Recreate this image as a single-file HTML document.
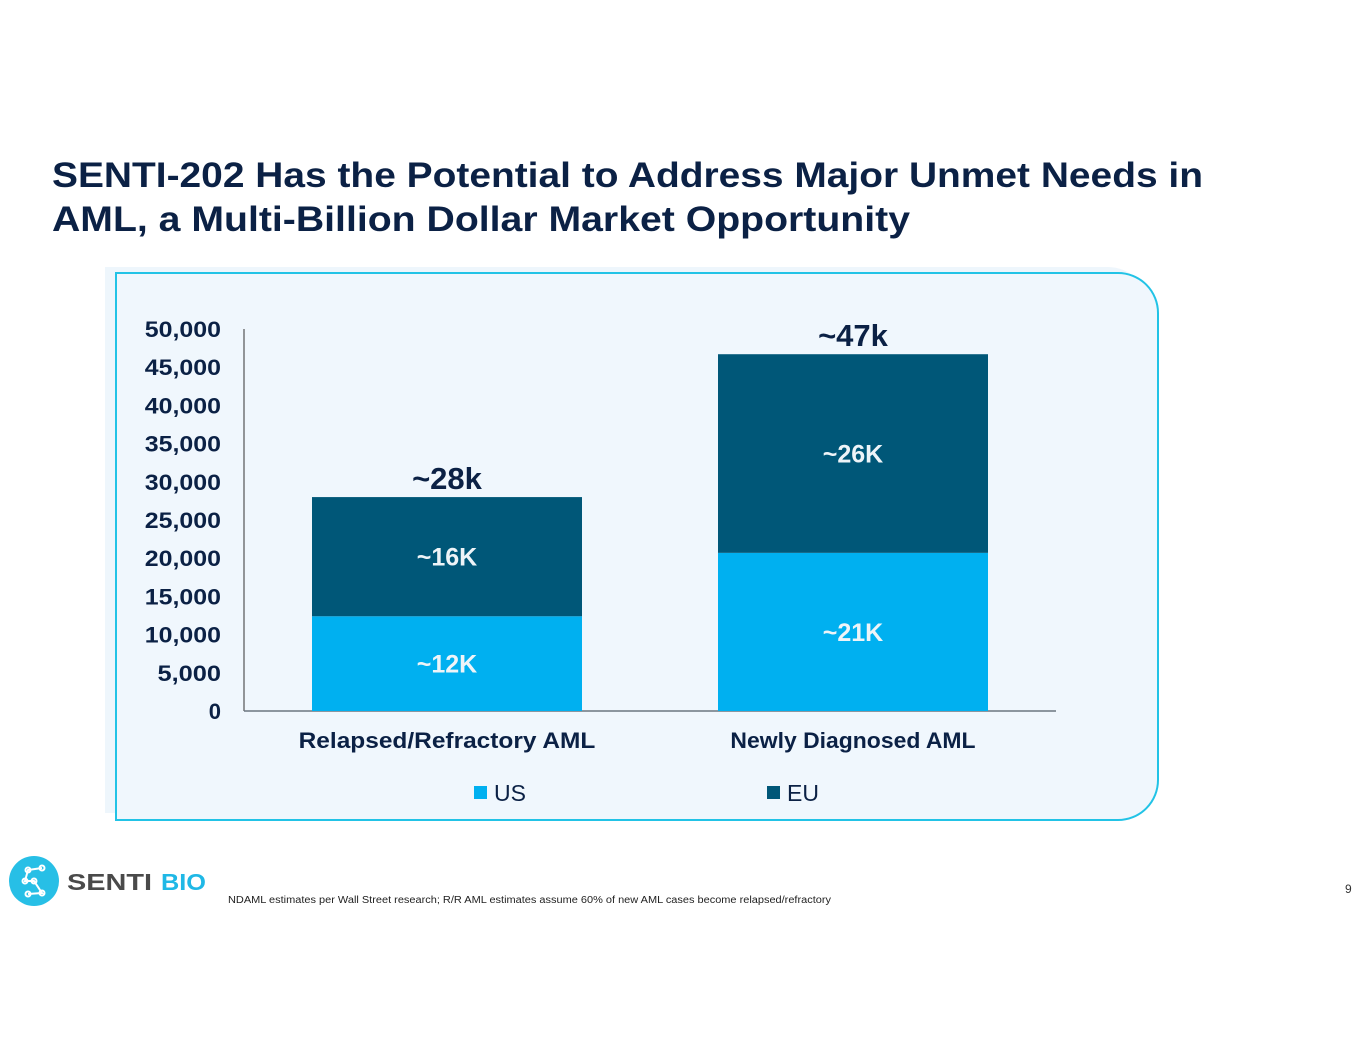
<!DOCTYPE html>
<html><head><meta charset="utf-8"><style>
html,body{margin:0;padding:0;background:#fff;}
svg{display:block;font-family:"Liberation Sans",sans-serif;}
</style></head><body>
<svg id="chart" width="1365" height="1055" viewBox="0 0 1365 1055">
<g fill="#0b2145" font-weight="bold" font-size="35">
<text x="52" y="187" textLength="1151" lengthAdjust="spacingAndGlyphs">SENTI-202 Has the Potential to Address Major Unmet Needs in</text>
<text x="52" y="231" textLength="858" lengthAdjust="spacingAndGlyphs">AML, a Multi-Billion Dollar Market Opportunity</text>
</g>
<path d="M105 267 H1108 A40 40 0 0 1 1148 307 V773 A40 40 0 0 1 1108 813 H105 Z" fill="#eef6fc"/>
<path d="M116 273 H1118 A40 40 0 0 1 1158 313 V780 A40 40 0 0 1 1118 820 H116 Z" fill="#f0f7fd" stroke="#22c3e6" stroke-width="2"/>
<g id="axes"></g>
<g id="bars"></g>
<g id="labels"></g>
<g font-size="23" fill="#0b2145">
<rect x="474" y="786" width="13" height="13" fill="#00b0f0"/>
<text x="494" y="801">US</text>
<rect x="767" y="786" width="13" height="13" fill="#005778"/>
<text x="787" y="801">EU</text>
</g>
<g>
<circle cx="34" cy="881" r="25" fill="#27bfe6"/>
<g stroke="#fff" stroke-width="2" fill="none">
<path d="M42 868 L28 870 L25 881 L34 881 L42 893 L28 894"/>
<circle cx="42" cy="868" r="2.5"/><circle cx="28" cy="870" r="2.5"/><circle cx="25" cy="881" r="2.5"/><circle cx="34" cy="881" r="2.5"/><circle cx="42" cy="893" r="2.5"/><circle cx="28" cy="894" r="2.5"/>
</g>
<text x="67" y="890" font-size="23" font-weight="bold" fill="#4a4a4a" textLength="85" lengthAdjust="spacingAndGlyphs">SENTI</text>
<text x="161" y="890" font-size="23" font-weight="bold" fill="#1fb8e6" textLength="45" lengthAdjust="spacingAndGlyphs">BIO</text>
</g>
<text x="228" y="903" font-size="10" fill="#222" textLength="603" lengthAdjust="spacingAndGlyphs">NDAML estimates per Wall Street research; R/R AML estimates assume 60% of new AML cases become relapsed/refractory</text>
<text x="1345" y="893" font-size="12" fill="#333">9</text>
</svg>
<script>
const categories = ["Relapsed/Refractory AML", "Newly Diagnosed AML"];
const usValues = [12400, 20700];
const euValues = [15600, 26000];
const usLabels = ["~12K", "~21K"];
const euLabels = ["~16K", "~26K"];
const totalLabels = ["~28k", "~47k"];
const yTicks = [0, 5000, 10000, 15000, 20000, 25000, 30000, 35000, 40000, 45000, 50000];

const NS = "http://www.w3.org/2000/svg";
const y0 = 711, y1 = 329, yMax = 50000;
const xL = 244, xR = 1056, barW = 270;
const y = v => y0 - (v / yMax) * (y0 - y1);
const xc = i => xL + (xR - xL) * (i + 0.5) / categories.length;
function mk(tag, attrs, parent, txt) {
  const e = document.createElementNS(NS, tag);
  for (const k in attrs) e.setAttribute(k, attrs[k]);
  if (txt !== undefined) e.textContent = txt;
  parent.appendChild(e);
  return e;
}
const axes = document.getElementById('axes'), bars = document.getElementById('bars'), labels = document.getElementById('labels');
let ya = mk('line', {x1: xL, x2: xL, y1: y1, y2: y0, stroke: '#333', 'stroke-width': 1}, axes);


let xa = mk('line', {x1: xL, x2: xR, y1: y0, y2: y0, stroke: '#6b7780', 'stroke-width': 1.5}, axes);


yTicks.forEach(t => {
  const s = t.toLocaleString('en-US');
  const attrs = {x: 221, y: y(t) + 8, 'text-anchor': 'end', 'font-size': 22, 'font-weight': 'bold', fill: '#0b2145'};
  if (s.length > 1) { attrs.textLength = s.length * 12.7; attrs.lengthAdjust = 'spacingAndGlyphs'; }
  const e = mk('text', attrs, axes, s);
  
  
});
categories.forEach((c, i) => {
  const cx = xc(i), x = cx - barW / 2;
  const tot = usValues[i] + euValues[i];
  const us = mk('rect', {x: x, y: y(usValues[i]), width: barW, height: y0 - y(usValues[i]), fill: '#00b0f0'}, bars);
  
  
  const eu = mk('rect', {x: x, y: y(tot), width: barW, height: y(usValues[i]) - y(tot), fill: '#005778'}, bars);
  
  
  const ul = mk('text', {x: cx, y: (y(usValues[i]) + y0) / 2 + 9, 'text-anchor': 'middle', 'font-size': 25, 'font-weight': 'bold', fill: '#eef4f8'}, labels, usLabels[i]);
  
  
  const el = mk('text', {x: cx, y: (y(tot) + y(usValues[i])) / 2 + 9, 'text-anchor': 'middle', 'font-size': 25, 'font-weight': 'bold', fill: '#eef4f8'}, labels, euLabels[i]);
  
  
  const tl = mk('text', {x: cx, y: y(tot) - 8, 'text-anchor': 'middle', 'font-size': 31, 'font-weight': 'bold', fill: '#0b2145'}, labels, totalLabels[i]);
  
  
  const cl = mk('text', {x: cx, y: 748, 'text-anchor': 'middle', 'font-size': 22, 'font-weight': 'bold', fill: '#0b2145', textLength: c.length * 12.9, lengthAdjust: 'spacingAndGlyphs'}, labels, c);
  
  
});
</script>
</body></html>
